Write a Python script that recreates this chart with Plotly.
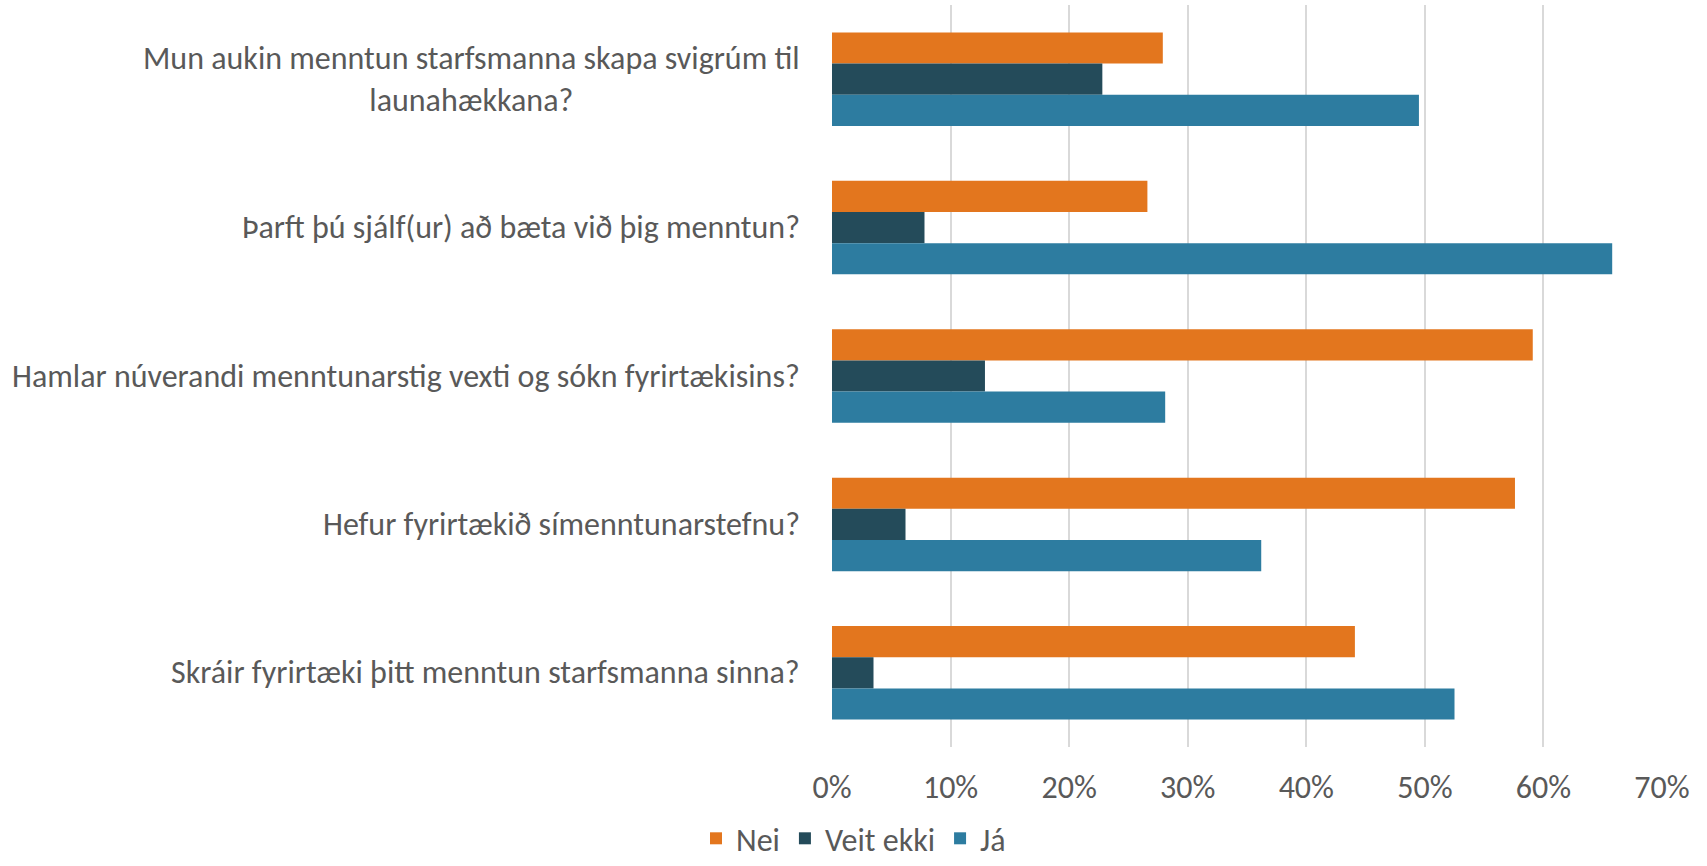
import plotly.graph_objects as go

categories = [
    "Mun aukin menntun starfsmanna skapa svigrúm til<br>launahækkana?",
    "Þarft þú sjálf(ur) að bæta við þig menntun?",
    "Hamlar núverandi menntunarstig vexti og sókn fyrirtækisins?",
    "Hefur fyrirtækið símenntunarstefnu?",
    "Skráir fyrirtæki þitt menntun starfsmanna sinna?",
]
nei = [0.279, 0.266, 0.591, 0.576, 0.441]
veit_ekki = [0.228, 0.078, 0.129, 0.062, 0.035]
ja = [0.495, 0.658, 0.281, 0.362, 0.525]
tick_vals = [0, 0.1, 0.2, 0.3, 0.4, 0.5, 0.6, 0.7]
tick_text = ["0%", "10%", "20%", "30%", "40%", "50%", "60%", "70%"]

series = [("Nei", nei, "#E3761E"), ("Veit ekki", veit_ekki, "#244B5A"), ("Já", ja, "#2D7CA0")]

FONT = "Calibri, Carlito, Lato, sans-serif"
GREY = "#595959"
FS = 32

fig = go.Figure()
for name, vals, col in series:
    fig.add_trace(go.Bar(
        y=categories, x=vals, name=name, orientation="h",
        marker=dict(color=col, line=dict(width=0)),
    ))

for c in categories:
    fig.add_annotation(
        x=0, xref="paper", y=c, yref="y", text=c, showarrow=False,
        xanchor="right", yanchor="middle", align="center", xshift=-30,
        font=dict(family=FONT, size=FS, color=GREY),
    )

fig.update_layout(
    width=1707, height=866,
    margin=dict(l=832, r=45, t=5, b=119),
    paper_bgcolor="white", plot_bgcolor="white",
    barmode="group", bargap=0.37, bargroupgap=0,
    font=dict(family=FONT, size=FS, color=GREY),
    xaxis=dict(range=[0, 0.7], tickvals=tick_vals, ticktext=tick_text,
               showgrid=True, gridcolor="#D9D9D9", gridwidth=1.5,
               zeroline=False, showline=False, ticklabelstandoff=18,
               automargin=False,
               tickfont=dict(family=FONT, size=FS, color=GREY)),
    yaxis=dict(autorange="reversed", showticklabels=False, showgrid=False,
               zeroline=False, showline=False, automargin=False),
    legend=dict(orientation="h", x=0.5, xref="container", xanchor="center",
                y=0.0, yref="container", yanchor="bottom",
                font=dict(family=FONT, size=FS, color=GREY),
                itemwidth=30, traceorder="normal", tracegroupgap=0),
)

fig.write_html("out.html", config={"displayModeBar": False},
               post_script="document.body.style.margin='0';")
